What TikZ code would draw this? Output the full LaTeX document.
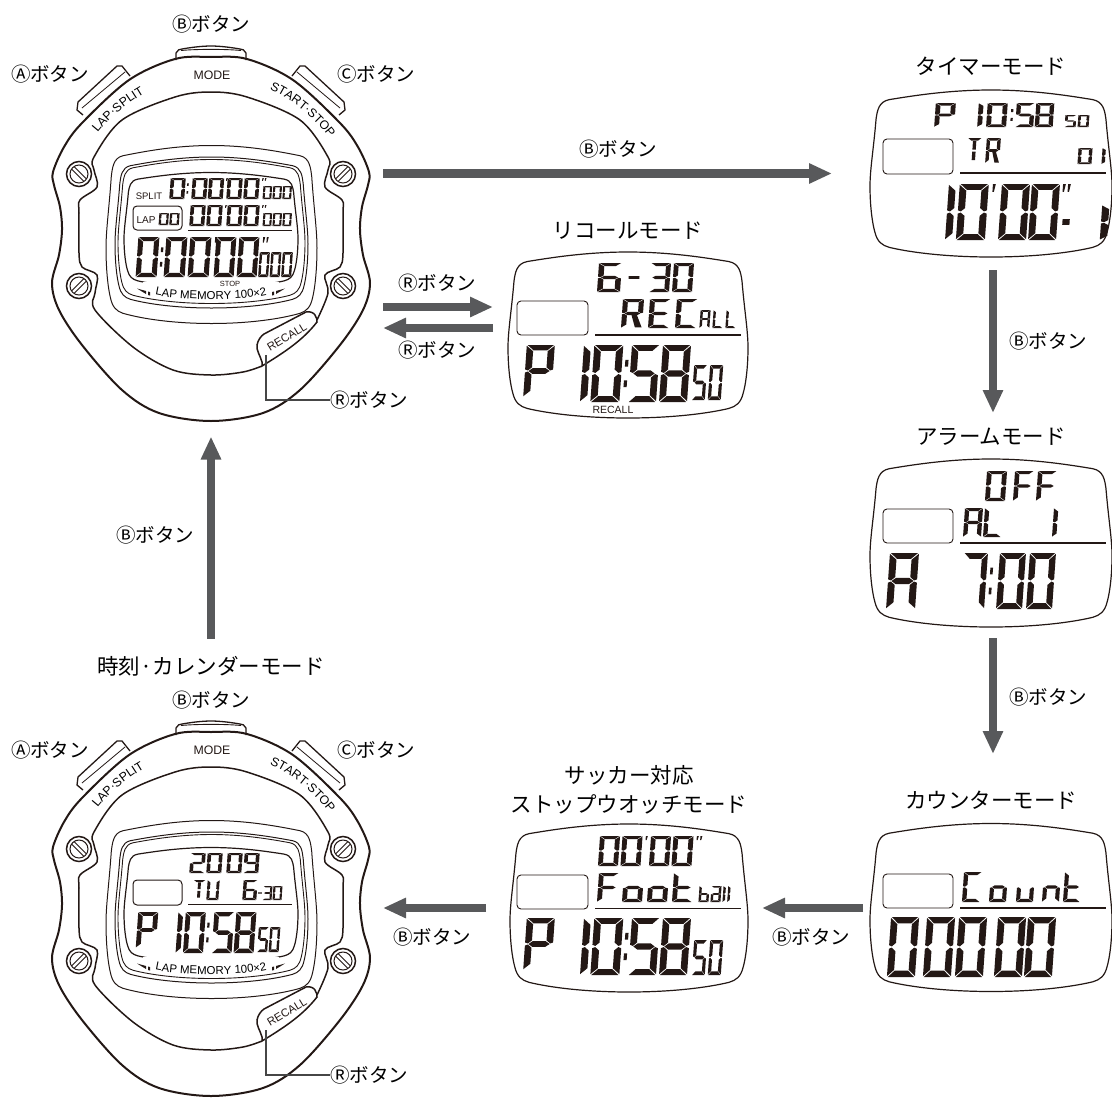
\documentclass[tikz,border=0pt]{standalone}
\usepackage{fontspec}
\usetikzlibrary{arrows.meta,decorations.text}
\setmainfont{Noto Sans CJK JP}
\newfontfamily\latinfont{Liberation Sans}
\definecolor{lcdink}{RGB}{35,24,21}
\definecolor{arrowgray}{RGB}{88,89,91}
\definecolor{leadergray}{RGB}{70,70,70}

\newcommand\lcdsegdef[2]{\expandafter\def\csname lcdseg#1\endcsname{#2}}
\lcdsegdef{a}{(.03,0)--(.97,0)--(.74,.105)--(.26,.105)--cycle}
\lcdsegdef{d}{(.03,1)--(.97,1)--(.74,.895)--(.26,.895)--cycle}
\lcdsegdef{f}{(0,.015)--(.24,.12)--(.24,.43)--(.1,.49)--(0,.47)--cycle}
\lcdsegdef{b}{(1,.015)--(.76,.12)--(.76,.43)--(.9,.49)--(1,.47)--cycle}
\lcdsegdef{e}{(0,.53)--(.1,.51)--(.24,.57)--(.24,.88)--(0,.985)--cycle}
\lcdsegdef{c}{(1,.53)--(.9,.51)--(.76,.57)--(.76,.88)--(1,.985)--cycle}
\lcdsegdef{g}{(.12,.5)--(.27,.445)--(.73,.445)--(.88,.5)--(.73,.555)--(.27,.555)--cycle}
\lcdsegdef{h}{(.38,.12)--(.62,.12)--(.62,.46)--(.38,.46)--cycle}
\lcdsegdef{i}{(.38,.54)--(.62,.54)--(.62,.88)--(.38,.88)--cycle}
\lcdsegdef{k}{(.46,.56)--(.72,.56)--(.98,.98)--(.66,.98)--cycle}
\lcdsegdef{m}{(.2,.45)--(.8,.45)--(.8,.55)--(.2,.55)--cycle}
\lcdsegdef{p}{(.02,.26)--(.13,.26)--(.13,.38)--(.02,.38)--cycle}
\lcdsegdef{q}{(.02,.62)--(.13,.62)--(.13,.74)--(.02,.74)--cycle}
\lcdsegdef{r}{(.04,0)--(.14,0)--(.09,.14)--(.04,.14)--cycle}
\lcdsegdef{s}{(.22,0)--(.32,0)--(.27,.14)--(.22,.14)--cycle}

\newcommand\lcddef[3]{\expandafter\def\csname lcdchar#1\endcsname{#2}\expandafter\def\csname lcdadv#1\endcsname{#3}}
\lcddef{0}{a,b,c,d,e,f}{1}
\lcddef{1}{e,f}{.27}
\lcddef{2}{a,b,d,e,g}{1}
\lcddef{3}{a,b,c,d,g}{1}
\lcddef{5}{a,c,d,f,g}{1}
\lcddef{6}{a,c,d,e,f,g}{1}
\lcddef{7}{a,b,c}{1}
\lcddef{8}{a,b,c,d,e,f,g}{1}
\lcddef{9}{a,b,c,d,f,g}{1}
\lcddef{P}{a,b,e,f,g}{1}
\lcddef{A}{a,b,c,e,f,g}{1}
\lcddef{T}{a,h,i}{1}
\lcddef{R}{a,b,e,f,g,k}{1}
\lcddef{E}{a,d,e,f,g}{1}
\lcddef{C}{a,d,e,f}{1}
\lcddef{L}{d,e,f}{1}
\lcddef{U}{b,c,d,e,f}{1}
\lcddef{F}{a,e,f,g}{1}
\lcddef{o}{c,d,e,g}{1}
\lcddef{u}{c,d,e}{1}
\lcddef{n}{c,e,g}{1}
\lcddef{t}{d,e,f,g}{1}
\lcddef{b}{c,d,e,f,g}{1}
\lcddef{a}{a,b,c,d,e,g}{1}
\lcddef{l}{e,f}{.27}
\lcddef{-}{m}{1}
\lcddef{:}{p,q}{.2}
\lcddef{'}{r}{.2}
\lcddef{"}{r,s}{.35}

\newcommand\lcd[6]{%
  \xdef\lcdpos{#1}%
  \foreach \ch in {#6}{%
    \begin{scope}[shift={(\lcdpos+.035*#4,#2)},x=#3pt,y=-#4pt,xslant=.07]
      \edef\lcdlist{\csname lcdchar\ch\endcsname}%
      \foreach \sg in \lcdlist {%
        \expandafter\let\expandafter\lcdp\csname lcdseg\sg\endcsname
        \fill[lcdink] \lcdp;
      }
    \end{scope}
    \pgfmathsetmacro\lcdnext{\lcdpos+\csname lcdadv\ch\endcsname*#3+#5}%
    \xdef\lcdpos{\lcdnext}%
  }%
}

\newcommand\lcdframe[5][]{%
  \begin{scope}[shift={(#2,#3)},x=#4pt,y=-#5pt]
    \draw[lcdink,#1] (0,-1) .. controls (.35,-1) and (.65,-.93) .. (.84,-.885)
      .. controls (.93,-.86) and (.94,-.75) .. (.95,-.65)
      .. controls (.97,-.3) and (1,-.05) .. (1,.15)
      .. controls (1,.4) and (.98,.6) .. (.96,.7)
      .. controls (.94,.82) and (.9,.86) .. (.84,.885)
      .. controls (.65,.95) and (.35,1) .. (0,1)
      .. controls (-.35,1) and (-.65,.95) .. (-.84,.885)
      .. controls (-.9,.86) and (-.94,.82) .. (-.96,.7)
      .. controls (-.98,.6) and (-1,.4) .. (-1,.15)
      .. controls (-1,-.05) and (-.97,-.3) .. (-.95,-.65)
      .. controls (-.94,-.75) and (-.93,-.86) .. (-.84,-.885)
      .. controls (-.65,-.93) and (-.35,-1) .. (0,-1) -- cycle;
  \end{scope}%
}

\tikzset{
  anchorbox/.style={rectangle,inner sep=0pt,outer sep=0pt},
  btnlabel/.style={font=\fontsize{19.5}{22}\selectfont,inner sep=0pt},
  modelabel/.style={font=\fontsize{21.5}{29}\selectfont,inner sep=0pt,align=center},
  facetext/.style={font=\latinfont\fontsize{12.3}{14}\selectfont,inner sep=0pt,text=lcdink},
  smalltext/.style={font=\latinfont\fontsize{9.5}{11}\selectfont,inner sep=0pt,text=lcdink},
  modearrow/.style={-{Triangle[length=23pt,width=19pt]},line width=8.5pt,draw=arrowgray},
  leader/.style={draw=leadergray,line width=1.2pt},
  iconbox/.style={draw=lcdink,line width=.9pt,rounded corners=4pt},
  rulebar/.style={draw=lcdink,line width=1.4pt},
  stopwatch/.pic={
    \draw[lcdink,line width=1.3pt,fill=white] (176,60) -- (176,53) .. controls (177,50) and (180,49) .. (182,49) .. controls (196,46.5) and (206,46) .. (211,46) .. controls (216,46) and (226,46.5) .. (240,49) .. controls (242,49) and (245,50) .. (246,53) -- (246,60);
    \draw[lcdink,line width=.9pt] (181,50.5) .. controls (196,49) and (226,49) .. (241,50.5);
    \foreach \side in {1,-1}{
      \begin{scope}[shift={(211,0)},xscale=\side]
        \draw[lcdink,line width=1.3pt,fill=white] (128,115) -- (134,110) -- (133,102) -- (94,66) -- (89,66) -- (81,76);
        \draw[lcdink,line width=.8pt] (129,108) -- (86,72);
      \end{scope}
    }
    \draw[lcdink,line width=2pt] plot[smooth cycle,tension=.55] coordinates {(211,57) (247,59) (293,80) (340,123) (358,147) (369,172) (368,185) (362,207) (360,230) (363,255) (370,283) (363,310) (340,345) (300,390) (263,413) (211,421) (159,413) (122,390) (82,345) (59,310) (52,283) (59,255) (62,230) (60,207) (54,185) (53,172) (64,147) (82,123) (129,80) (175,59)};
    \draw[lcdink,line width=1.5pt] plot[smooth,tension=.55] coordinates {(317,320) (328,293) (325,275) (340,267) (343,253) (343,213) (342,200) (325,187) (328,170) (328,157) (300,120) (247,97) (211,92) (175,97) (122,120) (94,157) (94,170) (97,187) (80,200) (79,213) (79,253) (82,267) (97,275) (95,293) (95,310) (133,347) (173,370) (211,375) (243,372) (262,366)};
    \foreach \sx/\sy/\ang in {79/174/-45,343/174/45,79/286/45,343/286/-45}{
      \begin{scope}[shift={(\sx,\sy)},rotate=\ang]
        \draw[lcdink,line width=1.5pt,fill=white] (0,0) circle (12.5pt);
        \draw[lcdink,line width=1pt] (0,0) circle (9pt);
        \draw[lcdink,line width=.9pt] (-8.5,-1.7) -- (8.5,-1.7) (-8.5,1.7) -- (8.5,1.7);
      \end{scope}
    }
    \draw[lcdink,line width=1.5pt,fill=white] (262,362) .. controls (260,355) and (256,350) .. (257,345) .. controls (258,340) and (261,336) .. (264,334) -- (306,312) .. controls (310,311) and (314,313) .. (315,315) .. controls (316,318) and (318,320) .. (317,322) .. controls (303,340) and (285,352) .. (262,366) -- cycle;
    \node[smalltext,rotate=31,font=\latinfont\fontsize{11.3}{13}\selectfont] (recalllabel) at (287,337) {RECALL};
    \node[facetext] (modelabel) at (212,75) {MODE};
    \path[decorate,decoration={text along path,text align=center,text={|\latinfont\fontsize{12.3}{14}\selectfont|LAP·SPLIT}}] (96,135) .. controls (108,119) and (127,103) .. (147,92);
    \path[decorate,decoration={text along path,text align=center,text={|\latinfont\fontsize{12.3}{14}\selectfont|START·STOP}}] (266,88) .. controls (290,97) and (315,118) .. (332,141);
    \lcdframe[line width=1pt]{211.5}{234.5}{105.5}{89}
    \lcdframe[line width=1pt]{211.5}{232.5}{96.5}{75.5}
    \lcdframe[line width=.9pt]{211.5}{231.5}{93.5}{72}
    \lcdframe[line width=1.2pt]{211}{230}{87}{57.5}
    \fill[white] (143,282) rectangle (279,291);
    \path[decorate,decoration={text along path,text align=center,text={|\latinfont\fontsize{11.5}{13}\selectfont|LAP MEMORY 100×2}}] (152,294) .. controls (175,301) and (247,301) .. (270,294);
    \fill[lcdink] (137,288.5) -- (146,291) -- (146,294) -- cycle (148,291.5) -- (150,292) -- (150,295.5) -- (148,295) -- cycle (285,288.5) -- (276,291) -- (276,294) -- cycle (274,291.5) -- (272,292) -- (272,295.5) -- (274,295) -- cycle;
  }
}

\begin{document}
\begin{tikzpicture}[x=1pt,y=-1pt]
\useasboundingbox (0,0) rectangle (1112,1106);

\pic at (0,0) {stopwatch};
\pic at (0,675) {stopwatch};

\node[anchorbox,minimum width=316pt,minimum height=375pt] (watchtop) at (211,233) {};
\node[anchorbox,minimum width=316pt,minimum height=375pt] (watchbottom) at (211,908) {};
\node[anchorbox,minimum width=238pt,minimum height=167pt] (timer) at (993,173.5) {};
\node[anchorbox,minimum width=238pt,minimum height=166pt] (recall) at (628,335) {};
\node[anchorbox,minimum width=238pt,minimum height=168pt] (alarm) at (993,543) {};
\node[anchorbox,minimum width=238pt,minimum height=168pt] (counter) at (993,908) {};
\node[anchorbox,minimum width=238pt,minimum height=168pt] (football) at (629,908) {};

\node[btnlabel] (btop) at (211,24) {Ⓑボタン};
\node[btnlabel] (atop) at (50,74) {Ⓐボタン};
\node[btnlabel] (ctop) at (376,74) {Ⓒボタン};
\node[btnlabel] (rtop) at (369,400) {Ⓡボタン};
\node[btnlabel] (bbottom) at (211,700) {Ⓑボタン};
\node[btnlabel] (abottom) at (50,750) {Ⓐボタン};
\node[btnlabel] (cbottom) at (376,750) {Ⓒボタン};
\node[btnlabel] (rbottom) at (369,1075) {Ⓡボタン};
\coordinate (rtiptop) at (266,355);
\coordinate (rtipbottom) at (266,1030);
\draw[leader] (rtop.west) -| (rtiptop);
\draw[leader] (rbottom.west) -| (rtipbottom);

\node[modelabel] (timertitle) at (991,66) {タイマーモード};
\node[modelabel] (recalltitle) at (628,231) {リコールモード};
\node[modelabel] (alarmtitle) at (991,437) {アラームモード};
\node[modelabel] (countertitle) at (991,800) {カウンターモード};
\node[modelabel] (footballtitle) at (629,790) {サッカー対応\\ストップウオッチモード};
\node[modelabel] (clocktitle) at (211,666) {時刻·カレンダーモード};

\draw[modearrow,shorten <=14pt,shorten >=42pt] (watchtop.east |- timer.west) -- (timer.west);
\draw[modearrow,shorten <=13pt,shorten >=46pt] (timer.south) -- (alarm.north);
\draw[modearrow,shorten <=11pt,shorten >=70pt] (alarm.south) -- (counter.north);
\draw[modearrow,shorten <=11pt,shorten >=14pt] (counter.west) -- (football.east);
\draw[modearrow,shorten <=24pt,shorten >=14pt] (football.west) -- (watchbottom.east |- football.west);
\draw[modearrow,shorten <=17pt,shorten >=16pt] (clocktitle.north) -- (watchtop.south);
\draw[modearrow,shorten <=14pt,shorten >=16pt] ([yshift=28pt]watchtop.east |- recall.west) -- ([yshift=28pt]recall.west);
\draw[modearrow,shorten <=16pt,shorten >=14pt] ([yshift=7pt]recall.west) -- ([yshift=7pt]watchtop.east |- recall.west);

\node[btnlabel] (btimer) at (618,149) {Ⓑボタン};
\node[btnlabel] (rgo) at (437,283) {Ⓡボタン};
\node[btnlabel] (rback) at (437,350) {Ⓡボタン};
\node[btnlabel] (balarm) at (1048,341) {Ⓑボタン};
\node[btnlabel] (bcounter) at (1048,697) {Ⓑボタン};
\node[btnlabel] (bfootball) at (811,937) {Ⓑボタン};
\node[btnlabel] (bclock) at (432,937) {Ⓑボタン};
\node[btnlabel] (bwatch) at (155,535) {Ⓑボタン};

\node[smalltext] (splitlabel) at (149,196) {SPLIT};
\draw[iconbox,line width=1pt] (133,206) rectangle (182,230);
\node[smalltext,font=\latinfont\fontsize{10}{12}\selectfont] (laplabel) at (146,220) {LAP};
\node[smalltext,font=\latinfont\fontsize{7.5}{9}\selectfont] (stoplabel) at (230,284) {STOP};
\draw[rulebar,line width=1pt] (188,230) -- (292,230);
\lcd{170}{178}{15}{21}{1.5}{0,:}
\lcd{192}{178}{15}{21}{1.5}{0,0,'}
\lcd{227}{178}{15}{21}{2}{0,0,"}
\lcd{263}{186}{8.7}{13}{1.2}{0,0,0}
\lcd{190}{205}{15}{21}{2}{0,0,'}
\lcd{227}{205}{15}{21}{2}{0,0,"}
\lcd{263}{213}{8.7}{13}{1.2}{0,0,0}
\lcd{159}{213}{9.5}{12}{1.2}{0,0}
\lcd{137}{237}{21}{40}{2}{0,:}
\lcd{165}{237}{21}{40}{3}{0,0,'}
\lcd{215}{237}{20}{40}{3}{0,0,"}
\lcd{259}{252}{10}{25}{1.5}{0,0,0}

\draw[iconbox,line width=1pt] (133,880) rectangle (182,905);
\draw[rulebar,line width=1pt] (188,904) -- (292,904);
\lcd{190}{853}{15}{20}{2}{2,0}
\lcd{227}{853}{15}{20}{2}{0,9}
\lcd{193}{880}{12}{20}{2}{T,U}
\lcd{243}{880}{14}{20}{1}{6}
\lcd{257}{886}{6}{14}{.5}{-}
\lcd{263}{886}{9}{14}{1}{3,0}
\lcd{137}{912}{20}{36}{2}{P}
\lcd{177}{912}{20}{41}{2}{1,0,:}
\lcd{213}{912}{20}{41}{2}{5,8}
\lcd{258}{927}{10}{25}{1.5}{5,0}

\lcdframe[line width=1.2pt]{991}{173.5}{121}{83.5}
\draw[iconbox] (883,139) rectangle (953,174);
\draw[rulebar] (960,173) -- (1106,173);
\lcd{935}{103}{20}{24}{2}{P}
\lcd{978}{103}{20}{24}{3.5}{1,0,:}
\lcd{1016}{103}{18}{24}{1.5}{5,8}
\lcd{1065}{115}{11}{12}{2}{5,0}
\lcd{967}{138}{14}{25}{5}{T,R}
\lcd{1078}{148}{14}{16}{10}{0,1}
\lcd{947}{184}{29}{56}{3}{1,0,'}
\lcd{1000}{184}{28}{56}{2}{0,0,"}
\lcd{1060}{194}{12}{56}{2}{-}
\lcd{1101}{205}{30}{35}{0}{1}

\lcdframe[line width=1.2pt]{628}{335}{120}{83}
\draw[iconbox] (517,301) rectangle (588,335);
\draw[rulebar] (595,335) -- (741,335);
\lcd{598}{263}{23}{29}{3}{6}
\lcd{625}{263}{18}{29}{3}{-}
\lcd{650}{263}{20}{29}{3}{3,0}
\lcd{622}{299}{21}{29}{6}{R,E,C}
\lcd{700}{310}{10}{18}{3}{A}
\lcd{713}{310}{10}{18}{3}{L,L}
\lcd{525}{345}{28}{52}{2}{P}
\lcd{582}{345}{29}{57}{2.5}{1,0,:}
\lcd{630}{345}{28}{57}{3}{5,8}
\lcd{693}{365}{13}{35}{3}{5,0}
\node[smalltext,font=\latinfont\fontsize{10.5}{12}\selectfont] (recallflag) at (613,410) {RECALL};

\lcdframe[line width=1.2pt]{991}{543}{121}{84}
\draw[iconbox] (883,509) rectangle (953,543);
\draw[rulebar] (960,543) -- (1106,543);
\lcd{986}{471}{20}{30}{7}{0}
\lcd{1014}{471}{19}{30}{4}{F,F}
\lcd{964}{508}{18}{29}{2}{A,L}
\lcd{1053}{508}{18}{29}{0}{1}
\lcd{888}{553}{29}{56}{0}{A}
\lcd{962}{553}{24}{56}{3}{7,:}
\lcd{998}{553}{26}{56}{4}{0,0}

\lcdframe[line width=1.2pt]{991}{907.5}{121}{84}
\draw[iconbox] (883,874) rectangle (953,908);
\draw[rulebar] (960,908) -- (1106,908);
\lcd{963}{872}{18}{30}{9}{C}
\lcd{990}{872}{17}{30}{10}{o,u}
\lcd{1043}{872}{17}{30}{4}{n,t}
\lcd{889}{917}{28}{60}{0}{0}
\lcd{925}{917}{28}{60}{4}{0,0}
\lcd{996}{917}{28}{60}{2}{0,0}

\lcdframe[line width=1.2pt]{629}{908}{119}{84}
\draw[iconbox] (517,875) rectangle (588,909);
\draw[rulebar] (595,908.5) -- (741,908.5);
\lcd{599}{836}{20}{30}{2.5}{0,0,'}
\lcd{650}{836}{20}{30}{2.5}{0,0,"}
\lcd{598}{873}{20}{29}{5}{F,o,o,t}
\lcd{699}{886}{10}{16}{2}{b,a,l,l}
\lcd{525}{918}{28}{52}{2}{P}
\lcd{582}{918}{29}{57}{2.5}{1,0,:}
\lcd{630}{918}{28}{57}{3}{5,8}
\lcd{693}{940}{13}{35}{3}{5,0}
\end{tikzpicture}
\end{document}
